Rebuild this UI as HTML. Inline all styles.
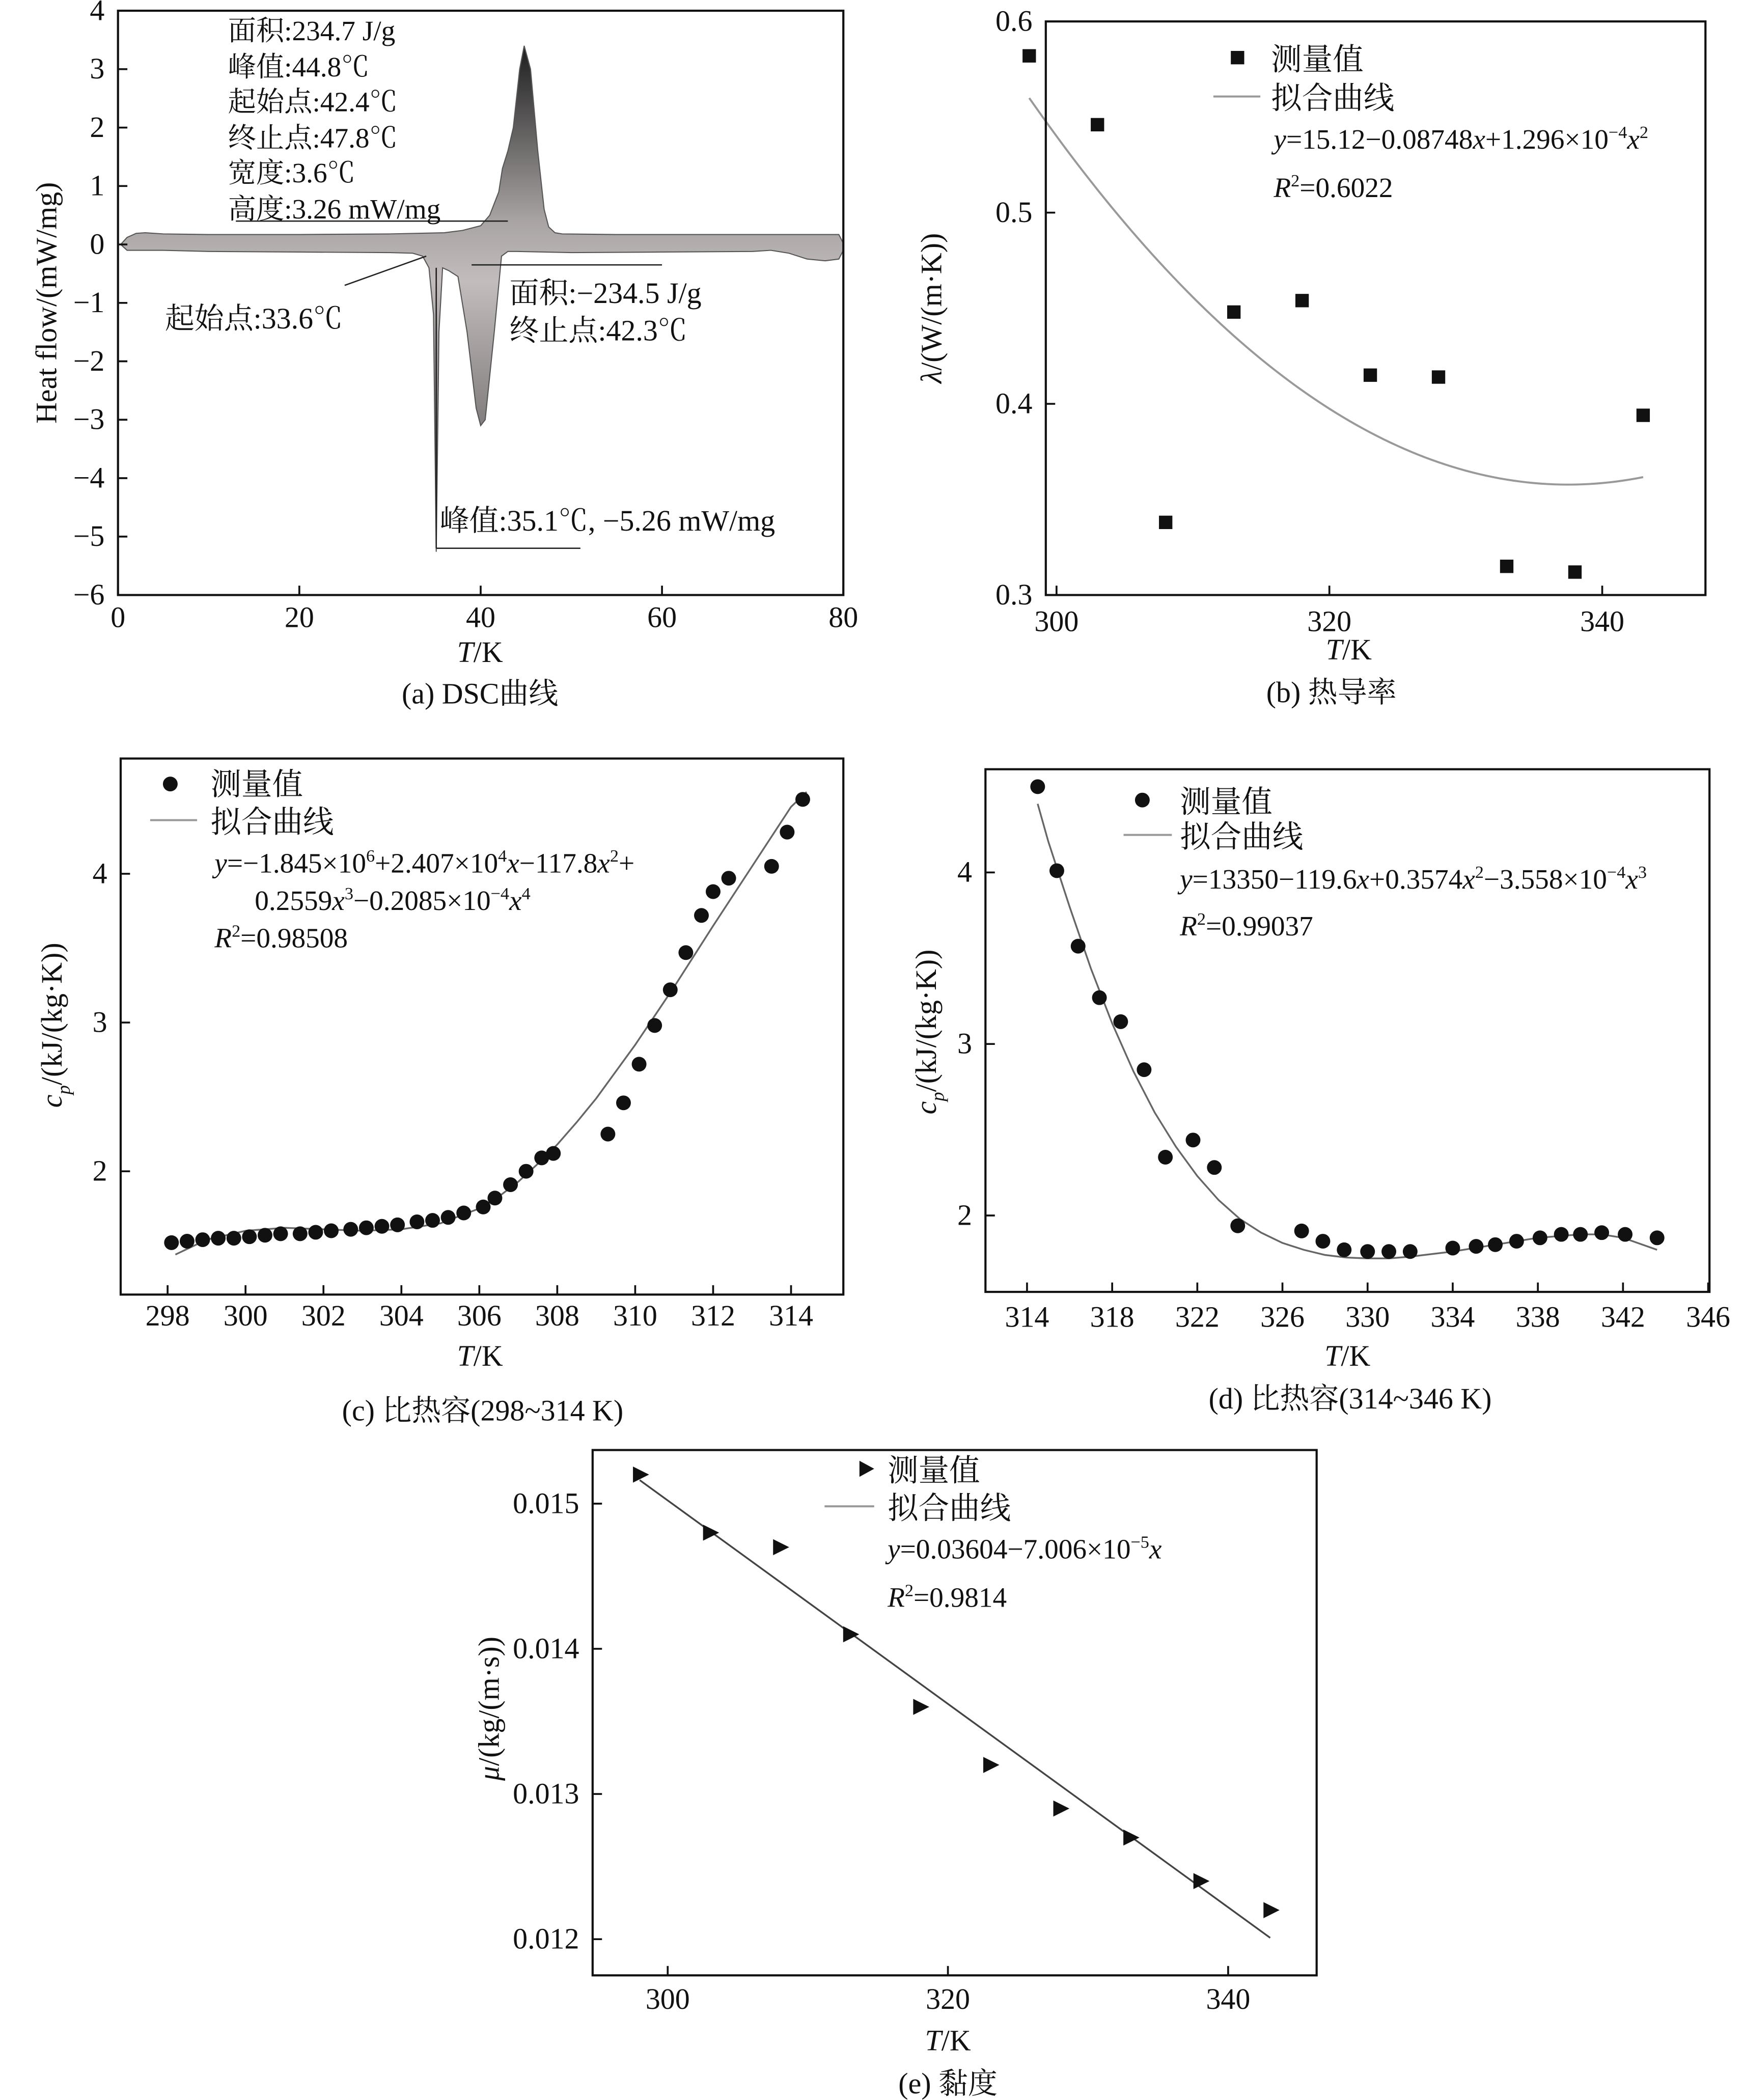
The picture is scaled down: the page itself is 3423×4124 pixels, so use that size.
<!DOCTYPE html>
<html><head><meta charset="utf-8">
<style>
html,body{margin:0;padding:0;background:#fff;}
svg{display:block;}
text{font-family:"Liberation Serif","Noto Serif CJK SC",serif;fill:#111;}
</style></head>
<body>
<svg id="fig" xmlns="http://www.w3.org/2000/svg" width="3423" height="4124" viewBox="0 0 1300 1567" preserveAspectRatio="none">
<defs>
<linearGradient id="dscGrad" gradientUnits="userSpaceOnUse" x1="0" y1="30" x2="0" y2="330">
<stop offset="0" stop-color="#1a1a1a"/>
<stop offset="0.45" stop-color="#a9a4a4"/>
<stop offset="0.6" stop-color="#c2bcbc"/>
<stop offset="1" stop-color="#7a7676"/>
</linearGradient>
</defs>
<g id="pa"></g>
<g id="pb"></g>
<g id="pc"></g>
<g id="pd"></g>
<g id="pe"></g>

<!-- Panel a texts -->
<text x="42" y="226" font-size="22" text-anchor="middle" transform="rotate(-90 42 226)">Heat flow/(mW/mg)</text>
<text x="358" y="494" font-size="22" text-anchor="middle"><tspan font-style="italic">T</tspan>/K</text>
<text x="358" y="525" font-size="22" text-anchor="middle">(a) DSC曲线</text>
<g font-size="21">
<text x="170" y="30">面积:234.7 J/g</text>
<text x="170" y="57">峰值:44.8℃</text>
<text x="170" y="83">起始点:42.4℃</text>
<text x="170" y="110">终止点:47.8℃</text>
<text x="170" y="136">宽度:3.6℃</text>
<text x="170" y="163">高度:3.26 mW/mg</text>
</g>
<text x="123" y="245" font-size="22">起始点:33.6℃</text>
<text x="380" y="226" font-size="22">面积:−234.5 J/g</text>
<text x="380" y="254" font-size="22">终止点:42.3℃</text>
<text x="328" y="396" font-size="22">峰值:35.1℃, −5.26 mW/mg</text>

<!-- Panel b texts -->
<text x="702" y="230" font-size="22" text-anchor="middle" transform="rotate(-90 702 230)"><tspan font-style="italic">λ</tspan>/(W/(m·K))</text>
<text x="1006" y="492" font-size="22" text-anchor="middle"><tspan font-style="italic">T</tspan>/K</text>
<text x="993" y="524" font-size="22" text-anchor="middle">(b) 热导率</text>
<g>
<rect x="918" y="38" width="10" height="10" fill="#111"/>
<text x="948" y="52" font-size="23">测量值</text>
<line x1="905" y1="72" x2="940" y2="72" stroke="#999" stroke-width="1.5"/>
<text x="948" y="81" font-size="23">拟合曲线</text>
<text x="950" y="111" font-size="21"><tspan font-style="italic">y</tspan>=15.12−0.08748<tspan font-style="italic">x</tspan>+1.296×10<tspan font-size="13" dy="-8">−4</tspan><tspan dy="8" font-style="italic">x</tspan><tspan font-size="13" dy="-8">2</tspan></text>
<text x="950" y="147" font-size="21"><tspan font-style="italic">R</tspan><tspan font-size="13" dy="-8">2</tspan><tspan dy="8">=0.6022</tspan></text>
</g>

<!-- Panel c texts -->
<text x="46" y="765" font-size="22" text-anchor="middle" transform="rotate(-90 46 765)"><tspan font-style="italic">c</tspan><tspan font-style="italic" font-size="14" dy="6">p</tspan><tspan dy="-6">/(kJ/(kg·K))</tspan></text>
<text x="358" y="1019" font-size="22" text-anchor="middle"><tspan font-style="italic">T</tspan>/K</text>
<text x="360" y="1060" font-size="22" text-anchor="middle">(c) 比热容(298~314 K)</text>
<g>
<circle cx="127" cy="585" r="5.5" fill="#111"/>
<text x="157" y="593" font-size="23">测量值</text>
<line x1="112" y1="612" x2="147" y2="612" stroke="#999" stroke-width="1.5"/>
<text x="157" y="621" font-size="23">拟合曲线</text>
<text x="160" y="651" font-size="21"><tspan font-style="italic">y</tspan>=−1.845×10<tspan font-size="13" dy="-8">6</tspan><tspan dy="8">+2.407×10</tspan><tspan font-size="13" dy="-8">4</tspan><tspan dy="8" font-style="italic">x</tspan>−117.8<tspan font-style="italic">x</tspan><tspan font-size="13" dy="-8">2</tspan><tspan dy="8">+</tspan></text>
<text x="190" y="679" font-size="21"><tspan>0.2559</tspan><tspan font-style="italic">x</tspan><tspan font-size="13" dy="-8">3</tspan><tspan dy="8">−0.2085×10</tspan><tspan font-size="13" dy="-8">−4</tspan><tspan dy="8" font-style="italic">x</tspan><tspan font-size="13" dy="-8">4</tspan></text>
<text x="160" y="707" font-size="21"><tspan font-style="italic">R</tspan><tspan font-size="13" dy="-8">2</tspan><tspan dy="8">=0.98508</tspan></text>
</g>

<!-- Panel d texts -->
<text x="698" y="770" font-size="22" text-anchor="middle" transform="rotate(-90 698 770)"><tspan font-style="italic">c</tspan><tspan font-style="italic" font-size="14" dy="6">p</tspan><tspan dy="-6">/(kJ/(kg·K))</tspan></text>
<text x="1005" y="1019" font-size="22" text-anchor="middle"><tspan font-style="italic">T</tspan>/K</text>
<text x="1007" y="1051" font-size="22" text-anchor="middle">(d) 比热容(314~346 K)</text>
<g>
<circle cx="852" cy="597" r="5.5" fill="#111"/>
<text x="880" y="606" font-size="23">测量值</text>
<line x1="838" y1="623" x2="874" y2="623" stroke="#999" stroke-width="1.5"/>
<text x="880" y="632" font-size="23">拟合曲线</text>
<text x="880" y="663" font-size="21"><tspan font-style="italic">y</tspan>=13350−119.6<tspan font-style="italic">x</tspan>+0.3574<tspan font-style="italic">x</tspan><tspan font-size="13" dy="-8">2</tspan><tspan dy="8">−3.558×10</tspan><tspan font-size="13" dy="-8">−4</tspan><tspan dy="8" font-style="italic">x</tspan><tspan font-size="13" dy="-8">3</tspan></text>
<text x="880" y="698" font-size="21"><tspan font-style="italic">R</tspan><tspan font-size="13" dy="-8">2</tspan><tspan dy="8">=0.99037</tspan></text>
</g>

<!-- Panel e texts -->
<text x="372" y="1275" font-size="22" text-anchor="middle" transform="rotate(-90 372 1275)"><tspan font-style="italic">μ</tspan>/(kg/(m·s))</text>
<text x="707" y="1530" font-size="22" text-anchor="middle"><tspan font-style="italic">T</tspan>/K</text>
<text x="707" y="1562" font-size="22" text-anchor="middle">(e) 黏度</text>
<g>
<polygon points="641,1090 652,1096 641,1102" fill="#111"/>
<text x="662" y="1105" font-size="23">测量值</text>
<line x1="615" y1="1124" x2="652" y2="1124" stroke="#999" stroke-width="1.5"/>
<text x="662" y="1133" font-size="23">拟合曲线</text>
<text x="662" y="1163" font-size="21"><tspan font-style="italic">y</tspan>=0.03604−7.006×10<tspan font-size="13" dy="-8">−5</tspan><tspan dy="8" font-style="italic">x</tspan></text>
<text x="662" y="1199" font-size="21"><tspan font-style="italic">R</tspan><tspan font-size="13" dy="-8">2</tspan><tspan dy="8">=0.9814</tspan></text>
</g>
</svg>
<script>
// ---- Panel a data (DSC) ----
const dscHeatT = [0.3,1,2,3,5,10,20,30,36,38,40,41,42,42.4,43,43.6,44.3,44.8,45.5,46.3,47,47.5,48.2,49,55,65,75,79.5,80];
const dscHeatQ = [0,0.12,0.19,0.2,0.18,0.17,0.17,0.18,0.2,0.24,0.32,0.5,0.9,1.3,1.6,2.0,3.0,3.4,3.0,1.6,0.6,0.3,0.2,0.18,0.17,0.17,0.17,0.17,0.02];
const dscCoolT = [80,79.5,78,76,74,72,70,60,50,44,43,42.3,41.5,40.5,40,39.5,38.5,37.5,36.5,35.8,35.4,35.1,34.8,34.3,33.6,32.5,30,20,10,5,1,0.3];
const dscCoolQ = [-0.1,-0.25,-0.28,-0.25,-0.15,-0.1,-0.12,-0.13,-0.14,-0.12,-0.12,-0.2,-1.5,-3.0,-3.1,-2.8,-1.5,-0.55,-0.45,-0.4,-1.5,-5.26,-1.2,-0.4,-0.2,-0.15,-0.14,-0.13,-0.12,-0.1,-0.1,0];
const aXTicks = [0,20,40,60,80];
const aYTicks = [-6,-5,-4,-3,-2,-1,0,1,2,3,4];
// ---- Panel b data ----
const bT = [298,303,308,313,318,323,328,333,338,343];
const bLambda = [0.582,0.546,0.338,0.448,0.454,0.415,0.414,0.315,0.312,0.394];
const bFitCoef = [15.12,-0.08748,1.296e-4];
const bXTicks = [300,320,340];
const bYTicks = [0.3,0.4,0.5,0.6];
// ---- Panel c data ----
const cT = [298.1,298.5,298.9,299.3,299.7,300.1,300.5,300.9,301.4,301.8,302.2,302.7,303.1,303.5,303.9,304.4,304.8,305.2,305.6,306.1,306.4,306.8,307.2,307.6,307.9,309.3,309.7,310.1,310.5,310.9,311.3,311.7,312.0,312.4,313.5,313.9,314.3];
const cCp = [1.52,1.53,1.54,1.55,1.55,1.56,1.57,1.58,1.58,1.59,1.60,1.61,1.62,1.63,1.64,1.66,1.67,1.69,1.72,1.76,1.82,1.91,2.00,2.09,2.12,2.25,2.46,2.72,2.98,3.22,3.47,3.72,3.88,3.97,4.05,4.28,4.50];
const cFitT = [298.2,299,300,301,302,303,304,305,306,306.5,307,307.5,308,308.5,309,310,311,312,313,314,314.4];
const cFitCp = [1.44,1.54,1.60,1.62,1.61,1.60,1.61,1.65,1.75,1.83,1.93,2.05,2.18,2.33,2.49,2.85,3.24,3.65,4.05,4.45,4.55];
const cXTicks = [298,300,302,304,306,308,310,312,314];
const cYTicks = [2,3,4];
// ---- Panel d data ----
const dT = [314.5,315.4,316.4,317.4,318.4,319.5,320.5,321.8,322.8,323.9,326.9,327.9,328.9,330.0,331.0,332.0,334.0,335.1,336.0,337.0,338.1,339.1,340.0,341.0,342.1,343.6];
const dCp = [4.50,4.01,3.57,3.27,3.13,2.85,2.34,2.44,2.28,1.94,1.91,1.85,1.80,1.79,1.79,1.79,1.81,1.82,1.83,1.85,1.87,1.89,1.89,1.90,1.89,1.87];
const dFitT = [314.5,315,316,317,318,319,320,321,322,323,324,325,326,327,328,329,330,331,332,334,336,338,340,341,342,343.6];
const dFitCp = [4.40,4.18,3.80,3.44,3.12,2.84,2.60,2.40,2.23,2.09,1.98,1.90,1.84,1.80,1.77,1.755,1.75,1.75,1.76,1.79,1.83,1.87,1.89,1.89,1.87,1.80];
const dXTicks = [314,318,322,326,330,334,338,342,346];
const dYTicks = [2,3,4];
// ---- Panel e data ----
const eT = [298,303,308,313,318,323,328,333,338,343];
const eMu = [0.0152,0.0148,0.0147,0.0141,0.0136,0.0132,0.0129,0.0127,0.0124,0.0122];
const eFitCoef = [0.03604,-7.006e-5];
const eFitRange = [298,343];
const eXTicks = [300,320,340];
const eYTicks = [0.012,0.013,0.014,0.015];

const NS = "http://www.w3.org/2000/svg";
function mk(tag, attrs, parent){ const e=document.createElementNS(NS,tag); for(const k in attrs) e.setAttribute(k,attrs[k]); parent.appendChild(e); return e; }
function lin(d0,d1,r0,r1){ return v => r0 + (v-d0)*(r1-r0)/(d1-d0); }

function frame(g, box, sx, sy, xt, yt, xfmt, yfmt, xLabY, yLabX, prefix){
  const r = mk('rect',{x:box.x0,y:box.y0,width:box.x1-box.x0,height:box.y1-box.y0,fill:'none',stroke:'#111','stroke-width':1.6},g);
  
  
  xt.forEach(v=>{
    const x=sx(v);
    mk('line',{x1:x,y1:box.y1,x2:x,y2:box.y1-7,stroke:'#111','stroke-width':1.4},g);
    const t=mk('text',{x:x,y:xLabY,'font-size':22,'text-anchor':'middle'},g);
    t.textContent=xfmt(v);
    
    
  });
  yt.forEach(v=>{
    const y=sy(v);
    mk('line',{x1:box.x0,y1:y,x2:box.x0+7,y2:y,stroke:'#111','stroke-width':1.4},g);
    const t=mk('text',{x:yLabX,y:y+7,'font-size':22,'text-anchor':'end'},g);
    t.textContent=yfmt(v);
    
    
  });
}
function pathFrom(xs, ys, sx, sy){ return xs.map((v,i)=>(i?'L':'M')+sx(v).toFixed(2)+','+sy(ys[i]).toFixed(2)).join(' '); }
const minus = s => String(s).replace('-','−');

// Panel a
(function(){
  const g=document.getElementById('pa');
  const box={x0:88,x1:629,y0:8,y1:444};
  const sx=lin(0,80,88,629), sy=lin(-6,4,444,8);
  let d=pathFrom(dscHeatT,dscHeatQ,sx,sy)+' '+pathFrom(dscCoolT,dscCoolQ,sx,sy).replace('M','L')+' Z';
  const p=mk('path',{d:d,fill:'url(#dscGrad)',stroke:'#555','stroke-width':0.8},g);
  
  
  const lines=[[13,0.4,43,0.4],[39,-0.35,60,-0.35],[25,-0.7,34,-0.2],[35.1,-0.4,35.1,-5.2],[35.1,-5.2,51,-5.2]];
  lines.forEach(l=>{
    const e=mk('line',{x1:sx(l[0]),y1:sy(l[1]),x2:sx(l[2]),y2:sy(l[3]),stroke:'#222','stroke-width':1},g);
    
    
  });
  frame(g,box,sx,sy,aXTicks,aYTicks,v=>String(v),v=>minus(v),468,78,'a');
})();

// Panel b
(function(){
  const g=document.getElementById('pb');
  const box={x0:780,x1:1272,y0:16,y1:444};
  const sx=lin(300,340,788,1195), sy=lin(0.3,0.6,444,16);
  const fx=[], fy=[];
  for(let t=298;t<=343.001;t+=0.5){ fx.push(t); fy.push(bFitCoef[0]+bFitCoef[1]*t+bFitCoef[2]*t*t); }
  const p=mk('path',{d:pathFrom(fx,fy,sx,sy),fill:'none',stroke:'#999','stroke-width':1.5},g);
  
  
  bT.forEach((t,i)=>{
    const r=mk('rect',{x:sx(t)-5,y:sy(bLambda[i])-5,width:10,height:10,fill:'#111'},g);
    
    
  });
  frame(g,box,sx,sy,bXTicks,bYTicks,v=>String(v),v=>v.toFixed(1),471,770,'b');
})();

// Panel c
(function(){
  const g=document.getElementById('pc');
  const box={x0:90,x1:629,y0:566,y1:966};
  const sx=lin(298,314,125,590), sy=lin(2,4,874,652);
  const p=mk('path',{d:pathFrom(cFitT,cFitCp,sx,sy),fill:'none',stroke:'#666','stroke-width':1.3},g);
  
  
  cT.forEach((t,i)=>{
    const c=mk('circle',{cx:sx(t),cy:sy(cCp[i]),r:5.5,fill:'#111'},g);
    
    
  });
  frame(g,box,sx,sy,cXTicks,cYTicks,v=>String(v),v=>String(v),989,80,'c');
})();

// Panel d
(function(){
  const g=document.getElementById('pd');
  const box={x0:735,x1:1275,y0:574,y1:964};
  const sx=lin(314,346,766,1274), sy=lin(2,4,907,651);
  const p=mk('path',{d:pathFrom(dFitT,dFitCp,sx,sy),fill:'none',stroke:'#666','stroke-width':1.3},g);
  
  
  dT.forEach((t,i)=>{
    const c=mk('circle',{cx:sx(t),cy:sy(dCp[i]),r:5.5,fill:'#111'},g);
    
    
  });
  frame(g,box,sx,sy,dXTicks,dYTicks,v=>String(v),v=>String(v),990,725,'d');
})();

// Panel e
(function(){
  const g=document.getElementById('pe');
  const box={x0:442,x1:982,y0:1082,y1:1474};
  const sx=lin(300,340,498,916), sy=lin(0.012,0.015,1447,1122);
  const fx=eFitRange, fy=eFitRange.map(t=>eFitCoef[0]+eFitCoef[1]*t);
  const p=mk('path',{d:pathFrom(fx,fy,sx,sy),fill:'none',stroke:'#444','stroke-width':1.3},g);
  
  
  eT.forEach((t,i)=>{
    const x=sx(t), y=sy(eMu[i]);
    const m=mk('polygon',{points:(x-5)+','+(y-6)+' '+(x+7)+','+y+' '+(x-5)+','+(y+6),fill:'#111'},g);
    
    
  });
  frame(g,box,sx,sy,eXTicks,eYTicks,v=>String(v),v=>v.toFixed(3),1499,432,'e');
})();
</script>
</body></html>
